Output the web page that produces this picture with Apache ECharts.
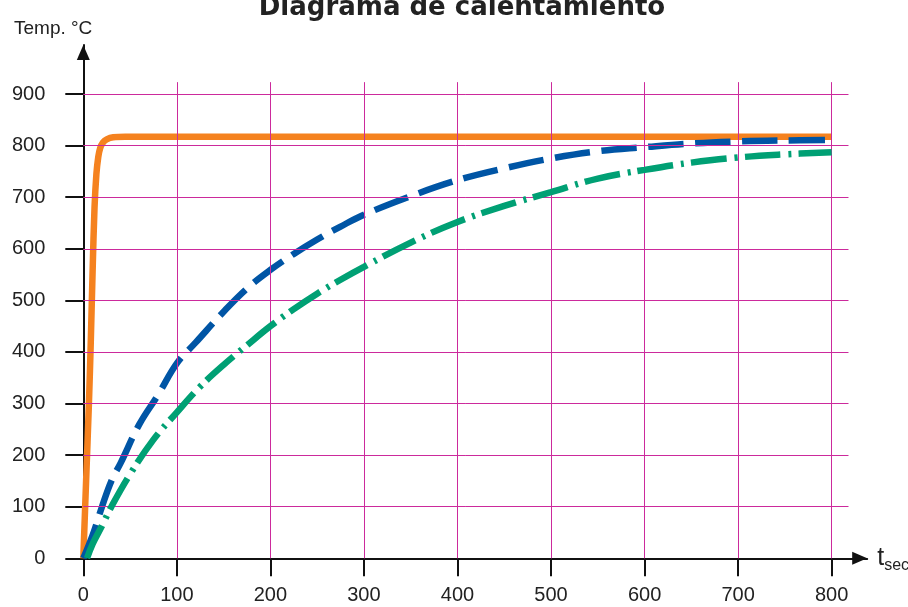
<!DOCTYPE html>
<html>
<head>
<meta charset="utf-8">
<script src="https://cdn.jsdelivr.net/npm/echarts@6.0.0/dist/echarts.min.js"></script>
<style>html,body{margin:0;padding:0;background:#fff}#c{width:908px;height:607px}</style>
</head>
<body>
<div id="c"></div>
<script>
// ---- data ----
const titleText = 'Diagrama de calentamiento';
const yAxisName = 'Temp. °C';
const xTickValues = [0, 100, 200, 300, 400, 500, 600, 700, 800];
const yTickValues = [0, 100, 200, 300, 400, 500, 600, 700, 800, 900];
const gridXEnd = 818;   // horizontal grid lines run to this t
const gridYEnd = 923;   // vertical grid lines run to this temperature

const orangeT = [0, 3, 6, 8, 10, 12, 14, 16, 18, 21, 25, 32, 45, 800];
const orangeV = [0, 150, 300, 420, 560, 680, 745, 778, 795, 806, 812, 816, 817, 817];

const blueT = [0, 10, 20, 30, 40, 60, 80, 100, 120, 150, 175, 200, 225, 250, 275, 300, 350, 400, 450, 500, 550, 600, 650, 700, 750, 800];
const blueV = [0, 45, 100, 150, 185, 260, 317, 378, 418, 478, 523, 559, 590, 618, 643, 666, 702, 733, 756, 775, 789, 797, 804, 808, 810, 811];

const greenT = [4, 10, 20, 30, 50, 75, 100, 125, 150, 175, 200, 225, 250, 275, 300, 350, 400, 450, 500, 550, 600, 650, 700, 750, 800];
const greenV = [0, 28, 63, 100, 163, 230, 283, 333, 375, 413, 450, 483, 513, 540, 565, 612, 652, 683, 710, 736, 753, 767, 777, 783, 787];

// ---- build ----
const zip = (a, b) => a.map((v, i) => [v, b[i]]);
const gridColor = '#cc2a9c';
const gridLines = [];
xTickValues.filter(v => v > 0).forEach(v => gridLines.push([{coord: [v, 0]}, {coord: [v, gridYEnd]}]));
yTickValues.filter(v => v > 0).forEach(v => gridLines.push([{coord: [0, v]}, {coord: [gridXEnd, v]}]));

const chart = echarts.init(document.getElementById('c'), null, {renderer: 'canvas'});
const axisLineStyle = {color: '#111', width: 2};
chart.setOption({
  animation: false,
  backgroundColor: '#fff',
  title: [
    {text: titleText, left: 457, textAlign: 'center', top: -10,
     textStyle: {fontFamily: 'DejaVu Sans', fontWeight: 'bold', fontSize: 26, color: '#222'}},
    {text: yAxisName, left: 9, top: 14,
     textStyle: {fontFamily: 'Liberation Sans', fontWeight: 'normal', fontSize: 19, color: '#222'}}
  ],
  grid: {left: 83.3, right: 908 - 867.2, top: 45, bottom: 607 - 558.3, containLabel: false, outerBoundsMode: 'none'},
  xAxis: {
    type: 'value', min: 0, max: 838, interval: 100,
    name: '{t|t}{s|sec.}', nameLocation: 'end', nameGap: 10, nameMoveOverlap: false,
    nameTextStyle: {rich: {
      t: {fontFamily: 'Liberation Sans', fontSize: 25, color: '#222'},
      s: {fontFamily: 'Liberation Sans', fontSize: 16, color: '#222', verticalAlign: 'bottom', padding: [14, 0, 0, 0]}
    }},
    axisLine: {show: true, lineStyle: axisLineStyle, symbol: ['none', 'triangle'], symbolSize: [13, 15], symbolOffset: [0, -7.5]},
    axisTick: {show: true, length: 18, lineStyle: axisLineStyle, customValues: xTickValues},
    axisLabel: {customValues: xTickValues, margin: 27, fontFamily: 'Liberation Sans', fontSize: 20, color: '#222'},
    splitLine: {show: false}
  },
  yAxis: {
    type: 'value', min: 0, max: 995, interval: 100,
    axisLine: {show: true, lineStyle: axisLineStyle, symbol: ['none', 'triangle'], symbolSize: [13, 15], symbolOffset: [0, -7.5]},
    axisTick: {show: true, length: 18, lineStyle: axisLineStyle, customValues: yTickValues},
    axisLabel: {customValues: yTickValues, margin: 38, fontFamily: 'Liberation Sans', fontSize: 20, color: '#222'},
    splitLine: {show: false}
  },
  series: [
    {type: 'line', name: 'grid', data: [], z: 1, silent: true,
     markLine: {silent: true, symbol: ['none', 'none'], label: {show: false}, animation: false,
       lineStyle: {color: gridColor, width: 1, type: 'solid'}, emphasis: {disabled: true}, data: gridLines}},
    {type: 'line', name: 'A', data: zip(orangeT, orangeV), smooth: 0.35, showSymbol: false, z: 3,
     lineStyle: {color: '#f5821f', width: 6.5, cap: 'butt'}},
    {type: 'line', name: 'B', data: zip(blueT, blueV), smooth: 0.4, showSymbol: false, z: 4,
     lineStyle: {color: '#0055a5', width: 6.5, type: [36, 11], cap: 'butt'}},
    {type: 'line', name: 'C', data: zip(greenT, greenV), smooth: 0.4, showSymbol: false, z: 5,
     lineStyle: {color: '#00a074', width: 6.5, type: [36, 8, 3, 7], cap: 'butt'}}
  ]
});
</script>
</body>
</html>
